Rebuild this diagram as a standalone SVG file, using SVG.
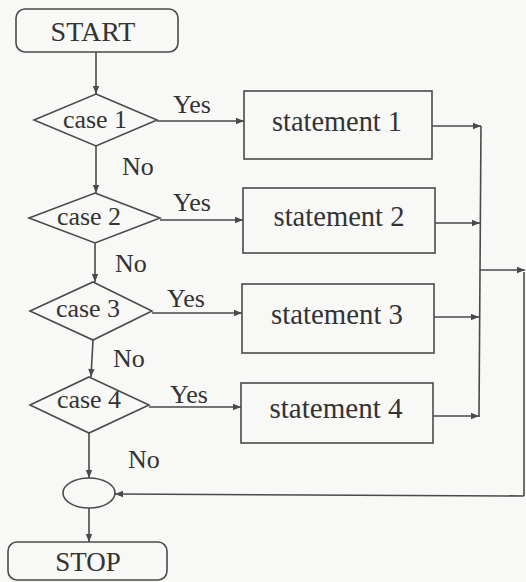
<svg xmlns="http://www.w3.org/2000/svg" width="526" height="582" viewBox="0 0 526 582">
  <style>
    .shape { fill: none; stroke: #4a4a4a; stroke-width: 1.6; }
    .line { fill: none; stroke: #4a4a4a; stroke-width: 1.6; }
    .arrow { fill: none; stroke: #4a4a4a; stroke-width: 1.6; marker-end: url(#ah); }
    text { font-family: "Liberation Serif", "Times New Roman", serif; fill: #333; }
    .lbl { font-size: 26px; }
    .st { font-size: 30px; text-anchor: middle; }
    .cs { font-size: 26px; text-anchor: middle; }
    .term { font-size: 28px; text-anchor: middle; }
  </style>
  <defs>
    <marker id="ah" viewBox="0 0 10 10" refX="10" refY="5" markerWidth="10" markerHeight="8" orient="auto" markerUnits="userSpaceOnUse">
      <path d="M0,1 L10,5 L0,9 z" fill="#4a4a4a"/>
    </marker>
  </defs>
  <rect x="0" y="0" width="526" height="582" fill="#f8f8f6"/>

  <g id="start">
    <rect class="shape" x="16" y="9" width="162" height="43" rx="9"/>
    <text class="term" x="93" y="41">START</text>
  </g>
  <g id="case1">
    <polygon class="shape" points="96,94 157,120 96,146 34,120"/>
    <text class="cs" x="95" y="128">case 1</text>
  </g>
  <g id="case2">
    <polygon class="shape" points="95,193 160,218 95,243 29,218"/>
    <text class="cs" x="89" y="225">case 2</text>
  </g>
  <g id="case3">
    <polygon class="shape" points="93,282 152,311 93,340 30,311"/>
    <text class="cs" x="88" y="317">case 3</text>
  </g>
  <g id="case4">
    <polygon class="shape" points="89,377 149,405 89,433 30,405"/>
    <text class="cs" x="89" y="408">case 4</text>
  </g>
  <g id="statement1">
    <rect class="shape" x="244" y="91" width="188" height="68"/>
    <text class="st" x="337" y="131" textLength="130" lengthAdjust="spacingAndGlyphs">statement 1</text>
  </g>
  <g id="statement2">
    <rect class="shape" x="243" y="188" width="192" height="65"/>
    <text class="st" x="339" y="226" textLength="131" lengthAdjust="spacingAndGlyphs">statement 2</text>
  </g>
  <g id="statement3">
    <rect class="shape" x="242" y="284" width="192" height="69"/>
    <text class="st" x="337" y="324" textLength="132" lengthAdjust="spacingAndGlyphs">statement 3</text>
  </g>
  <g id="statement4">
    <rect class="shape" x="241" y="383" width="192" height="60"/>
    <text class="st" x="336" y="418" textLength="133" lengthAdjust="spacingAndGlyphs">statement 4</text>
  </g>
  <g id="join">
    <ellipse class="shape" cx="89" cy="493" rx="26" ry="15"/>
  </g>
  <g id="stop">
    <rect class="shape" x="8" y="542" width="159" height="38" rx="9"/>
    <text class="term" x="88" y="571" style="font-size:27px">STOP</text>
  </g>

  <g id="connectors">
    <path class="arrow" d="M96,52 L96,94"/>
    <path class="arrow" d="M157,121 L244,121"/>
    <path class="arrow" d="M96,146 L96,193"/>
    <path class="arrow" d="M160,220 L243,220"/>
    <path class="arrow" d="M95,243 L95,282"/>
    <path class="arrow" d="M152,313 L242,313"/>
    <path class="arrow" d="M93,340 L91,377"/>
    <path class="arrow" d="M149,407 L241,407"/>
    <path class="arrow" d="M89,433 L89,478"/>
    <path class="arrow" d="M89,508 L89,542"/>

    <path class="arrow" d="M432,126 L481,126"/>
    <path class="arrow" d="M435,223 L480,223"/>
    <path class="arrow" d="M434,317 L479,317"/>
    <path class="arrow" d="M433,416 L479,416"/>
    <path class="line" d="M481,126 L479,417"/>
    <path class="arrow" d="M480,270 L525,270"/>
    <path class="line" d="M524,272 L524,496"/>
    <path class="arrow" d="M524,496 L115,494"/>

    <text class="lbl" x="173" y="113">Yes</text>
    <text class="lbl" x="122" y="175">No</text>
    <text class="lbl" x="173" y="211">Yes</text>
    <text class="lbl" x="115" y="272">No</text>
    <text class="lbl" x="167" y="307">Yes</text>
    <text class="lbl" x="113" y="367">No</text>
    <text class="lbl" x="170" y="403">Yes</text>
    <text class="lbl" x="128" y="468">No</text>
  </g>
</svg>
